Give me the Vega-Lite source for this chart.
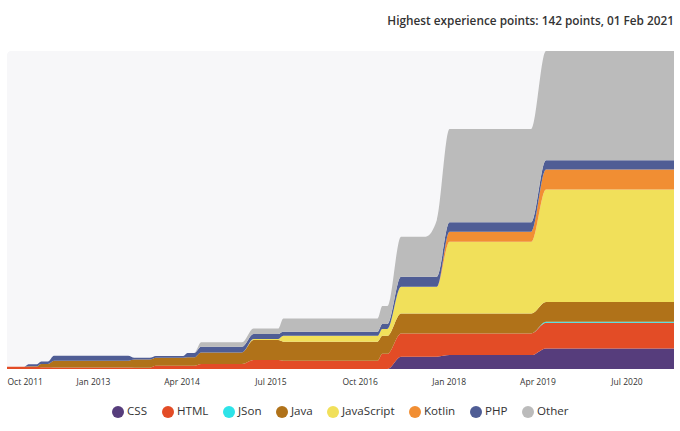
{
  "$schema": "https://vega.github.io/schema/vega-lite/v6.json",
  "width": 667,
  "height": 318,
  "autosize": {"type": "none"},
  "padding": {"left": 7, "top": 51, "right": 6, "bottom": 62},
  "background": "white",
  "title": {
    "text": "Highest experience points: 142 points, 01 Feb 2021",
    "anchor": "end",
    "font": "Open Sans",
    "fontSize": 11.8,
    "fontWeight": 600,
    "color": "#333333",
    "offset": 23
  },
  "data": {
    "values": [
      {"d": "2011-10-18", "s": "CSS", "k": 1, "v": 0}, {"d": "2011-10-18", "s": "HTML", "k": 2, "v": 1.0}, {"d": "2011-10-18", "s": "JSon", "k": 3, "v": 0}, {"d": "2011-10-18", "s": "Java", "k": 4, "v": 0}, {"d": "2011-10-18", "s": "JavaScript", "k": 5, "v": 0}, {"d": "2011-10-18", "s": "Kotlin", "k": 6, "v": 0}, {"d": "2011-10-18", "s": "PHP", "k": 7, "v": 0}, {"d": "2011-10-18", "s": "Other", "k": 8, "v": 0},
      {"d": "2012-01-15", "s": "CSS", "k": 1, "v": 0}, {"d": "2012-01-15", "s": "HTML", "k": 2, "v": 1.0}, {"d": "2012-01-15", "s": "JSon", "k": 3, "v": 0}, {"d": "2012-01-15", "s": "Java", "k": 4, "v": 0}, {"d": "2012-01-15", "s": "JavaScript", "k": 5, "v": 0}, {"d": "2012-01-15", "s": "Kotlin", "k": 6, "v": 0}, {"d": "2012-01-15", "s": "PHP", "k": 7, "v": 0}, {"d": "2012-01-15", "s": "Other", "k": 8, "v": 0},
      {"d": "2012-02-05", "s": "CSS", "k": 1, "v": 0}, {"d": "2012-02-05", "s": "HTML", "k": 2, "v": 1.0}, {"d": "2012-02-05", "s": "JSon", "k": 3, "v": 0}, {"d": "2012-02-05", "s": "Java", "k": 4, "v": 0.2}, {"d": "2012-02-05", "s": "JavaScript", "k": 5, "v": 0}, {"d": "2012-02-05", "s": "Kotlin", "k": 6, "v": 0}, {"d": "2012-02-05", "s": "PHP", "k": 7, "v": 0.9}, {"d": "2012-02-05", "s": "Other", "k": 8, "v": 0},
      {"d": "2012-03-20", "s": "CSS", "k": 1, "v": 0}, {"d": "2012-03-20", "s": "HTML", "k": 2, "v": 1.0}, {"d": "2012-03-20", "s": "JSon", "k": 3, "v": 0}, {"d": "2012-03-20", "s": "Java", "k": 4, "v": 0.2}, {"d": "2012-03-20", "s": "JavaScript", "k": 5, "v": 0}, {"d": "2012-03-20", "s": "Kotlin", "k": 6, "v": 0}, {"d": "2012-03-20", "s": "PHP", "k": 7, "v": 0.9}, {"d": "2012-03-20", "s": "Other", "k": 8, "v": 0},
      {"d": "2012-04-10", "s": "CSS", "k": 1, "v": 0}, {"d": "2012-04-10", "s": "HTML", "k": 2, "v": 0.8}, {"d": "2012-04-10", "s": "JSon", "k": 3, "v": 0}, {"d": "2012-04-10", "s": "Java", "k": 4, "v": 1.4}, {"d": "2012-04-10", "s": "JavaScript", "k": 5, "v": 0}, {"d": "2012-04-10", "s": "Kotlin", "k": 6, "v": 0}, {"d": "2012-04-10", "s": "PHP", "k": 7, "v": 1.1}, {"d": "2012-04-10", "s": "Other", "k": 8, "v": 0},
      {"d": "2012-05-15", "s": "CSS", "k": 1, "v": 0}, {"d": "2012-05-15", "s": "HTML", "k": 2, "v": 0.8}, {"d": "2012-05-15", "s": "JSon", "k": 3, "v": 0}, {"d": "2012-05-15", "s": "Java", "k": 4, "v": 1.4}, {"d": "2012-05-15", "s": "JavaScript", "k": 5, "v": 0}, {"d": "2012-05-15", "s": "Kotlin", "k": 6, "v": 0}, {"d": "2012-05-15", "s": "PHP", "k": 7, "v": 1.1}, {"d": "2012-05-15", "s": "Other", "k": 8, "v": 0},
      {"d": "2012-06-15", "s": "CSS", "k": 1, "v": 0}, {"d": "2012-06-15", "s": "HTML", "k": 2, "v": 0.7}, {"d": "2012-06-15", "s": "JSon", "k": 3, "v": 0}, {"d": "2012-06-15", "s": "Java", "k": 4, "v": 3.0}, {"d": "2012-06-15", "s": "JavaScript", "k": 5, "v": 0}, {"d": "2012-06-15", "s": "Kotlin", "k": 6, "v": 0}, {"d": "2012-06-15", "s": "PHP", "k": 7, "v": 2.2}, {"d": "2012-06-15", "s": "Other", "k": 8, "v": 0},
      {"d": "2013-07-01", "s": "CSS", "k": 1, "v": 0}, {"d": "2013-07-01", "s": "HTML", "k": 2, "v": 0.7}, {"d": "2013-07-01", "s": "JSon", "k": 3, "v": 0}, {"d": "2013-07-01", "s": "Java", "k": 4, "v": 3.0}, {"d": "2013-07-01", "s": "JavaScript", "k": 5, "v": 0}, {"d": "2013-07-01", "s": "Kotlin", "k": 6, "v": 0}, {"d": "2013-07-01", "s": "PHP", "k": 7, "v": 2.2}, {"d": "2013-07-01", "s": "Other", "k": 8, "v": 0},
      {"d": "2013-08-01", "s": "CSS", "k": 1, "v": 0}, {"d": "2013-08-01", "s": "HTML", "k": 2, "v": 0.6}, {"d": "2013-08-01", "s": "JSon", "k": 3, "v": 0}, {"d": "2013-08-01", "s": "Java", "k": 4, "v": 3.6}, {"d": "2013-08-01", "s": "JavaScript", "k": 5, "v": 0}, {"d": "2013-08-01", "s": "Kotlin", "k": 6, "v": 0}, {"d": "2013-08-01", "s": "PHP", "k": 7, "v": 0.8}, {"d": "2013-08-01", "s": "Other", "k": 8, "v": 0},
      {"d": "2013-10-20", "s": "CSS", "k": 1, "v": 0}, {"d": "2013-10-20", "s": "HTML", "k": 2, "v": 0.6}, {"d": "2013-10-20", "s": "JSon", "k": 3, "v": 0}, {"d": "2013-10-20", "s": "Java", "k": 4, "v": 3.6}, {"d": "2013-10-20", "s": "JavaScript", "k": 5, "v": 0}, {"d": "2013-10-20", "s": "Kotlin", "k": 6, "v": 0}, {"d": "2013-10-20", "s": "PHP", "k": 7, "v": 0.8}, {"d": "2013-10-20", "s": "Other", "k": 8, "v": 0},
      {"d": "2013-11-20", "s": "CSS", "k": 1, "v": 0}, {"d": "2013-11-20", "s": "HTML", "k": 2, "v": 1.4}, {"d": "2013-11-20", "s": "JSon", "k": 3, "v": 0}, {"d": "2013-11-20", "s": "Java", "k": 4, "v": 3.6}, {"d": "2013-11-20", "s": "JavaScript", "k": 5, "v": 0}, {"d": "2013-11-20", "s": "Kotlin", "k": 6, "v": 0}, {"d": "2013-11-20", "s": "PHP", "k": 7, "v": 0.8}, {"d": "2013-11-20", "s": "Other", "k": 8, "v": 0},
      {"d": "2014-04-10", "s": "CSS", "k": 1, "v": 0}, {"d": "2014-04-10", "s": "HTML", "k": 2, "v": 1.4}, {"d": "2014-04-10", "s": "JSon", "k": 3, "v": 0}, {"d": "2014-04-10", "s": "Java", "k": 4, "v": 3.6}, {"d": "2014-04-10", "s": "JavaScript", "k": 5, "v": 0}, {"d": "2014-04-10", "s": "Kotlin", "k": 6, "v": 0}, {"d": "2014-04-10", "s": "PHP", "k": 7, "v": 0.8}, {"d": "2014-04-10", "s": "Other", "k": 8, "v": 0},
      {"d": "2014-05-01", "s": "CSS", "k": 1, "v": 0}, {"d": "2014-05-01", "s": "HTML", "k": 2, "v": 1.4}, {"d": "2014-05-01", "s": "JSon", "k": 3, "v": 0}, {"d": "2014-05-01", "s": "Java", "k": 4, "v": 3.8}, {"d": "2014-05-01", "s": "JavaScript", "k": 5, "v": 0}, {"d": "2014-05-01", "s": "Kotlin", "k": 6, "v": 0}, {"d": "2014-05-01", "s": "PHP", "k": 7, "v": 1.9}, {"d": "2014-05-01", "s": "Other", "k": 8, "v": 0},
      {"d": "2014-06-05", "s": "CSS", "k": 1, "v": 0}, {"d": "2014-06-05", "s": "HTML", "k": 2, "v": 1.4}, {"d": "2014-06-05", "s": "JSon", "k": 3, "v": 0}, {"d": "2014-06-05", "s": "Java", "k": 4, "v": 3.8}, {"d": "2014-06-05", "s": "JavaScript", "k": 5, "v": 0}, {"d": "2014-06-05", "s": "Kotlin", "k": 6, "v": 0}, {"d": "2014-06-05", "s": "PHP", "k": 7, "v": 1.9}, {"d": "2014-06-05", "s": "Other", "k": 8, "v": 0},
      {"d": "2014-07-10", "s": "CSS", "k": 1, "v": 0}, {"d": "2014-07-10", "s": "HTML", "k": 2, "v": 2.2}, {"d": "2014-07-10", "s": "JSon", "k": 3, "v": 0}, {"d": "2014-07-10", "s": "Java", "k": 4, "v": 5.2}, {"d": "2014-07-10", "s": "JavaScript", "k": 5, "v": 0}, {"d": "2014-07-10", "s": "Kotlin", "k": 6, "v": 0}, {"d": "2014-07-10", "s": "PHP", "k": 7, "v": 2.5}, {"d": "2014-07-10", "s": "Other", "k": 8, "v": 2.0},
      {"d": "2015-02-05", "s": "CSS", "k": 1, "v": 0}, {"d": "2015-02-05", "s": "HTML", "k": 2, "v": 2.2}, {"d": "2015-02-05", "s": "JSon", "k": 3, "v": 0}, {"d": "2015-02-05", "s": "Java", "k": 4, "v": 5.2}, {"d": "2015-02-05", "s": "JavaScript", "k": 5, "v": 0}, {"d": "2015-02-05", "s": "Kotlin", "k": 6, "v": 0}, {"d": "2015-02-05", "s": "PHP", "k": 7, "v": 2.5}, {"d": "2015-02-05", "s": "Other", "k": 8, "v": 2.0},
      {"d": "2015-04-05", "s": "CSS", "k": 1, "v": 0}, {"d": "2015-04-05", "s": "HTML", "k": 2, "v": 4.0}, {"d": "2015-04-05", "s": "JSon", "k": 3, "v": 0}, {"d": "2015-04-05", "s": "Java", "k": 4, "v": 8.9}, {"d": "2015-04-05", "s": "JavaScript", "k": 5, "v": 0.5}, {"d": "2015-04-05", "s": "Kotlin", "k": 6, "v": 0}, {"d": "2015-04-05", "s": "PHP", "k": 7, "v": 2.2}, {"d": "2015-04-05", "s": "Other", "k": 8, "v": 2.5},
      {"d": "2015-08-10", "s": "CSS", "k": 1, "v": 0}, {"d": "2015-08-10", "s": "HTML", "k": 2, "v": 4.0}, {"d": "2015-08-10", "s": "JSon", "k": 3, "v": 0}, {"d": "2015-08-10", "s": "Java", "k": 4, "v": 8.9}, {"d": "2015-08-10", "s": "JavaScript", "k": 5, "v": 0.5}, {"d": "2015-08-10", "s": "Kotlin", "k": 6, "v": 0}, {"d": "2015-08-10", "s": "PHP", "k": 7, "v": 2.2}, {"d": "2015-08-10", "s": "Other", "k": 8, "v": 2.5},
      {"d": "2015-09-05", "s": "CSS", "k": 1, "v": 0}, {"d": "2015-09-05", "s": "HTML", "k": 2, "v": 3.7}, {"d": "2015-09-05", "s": "JSon", "k": 3, "v": 0}, {"d": "2015-09-05", "s": "Java", "k": 4, "v": 8.5}, {"d": "2015-09-05", "s": "JavaScript", "k": 5, "v": 2.6}, {"d": "2015-09-05", "s": "Kotlin", "k": 6, "v": 0}, {"d": "2015-09-05", "s": "PHP", "k": 7, "v": 1.8}, {"d": "2015-09-05", "s": "Other", "k": 8, "v": 6.0},
      {"d": "2017-01-01", "s": "CSS", "k": 1, "v": 0}, {"d": "2017-01-01", "s": "HTML", "k": 2, "v": 3.7}, {"d": "2017-01-01", "s": "JSon", "k": 3, "v": 0}, {"d": "2017-01-01", "s": "Java", "k": 4, "v": 8.5}, {"d": "2017-01-01", "s": "JavaScript", "k": 5, "v": 2.6}, {"d": "2017-01-01", "s": "Kotlin", "k": 6, "v": 0}, {"d": "2017-01-01", "s": "PHP", "k": 7, "v": 1.8}, {"d": "2017-01-01", "s": "Other", "k": 8, "v": 6.0},
      {"d": "2017-01-25", "s": "CSS", "k": 1, "v": 0}, {"d": "2017-01-25", "s": "HTML", "k": 2, "v": 6.8}, {"d": "2017-01-25", "s": "JSon", "k": 3, "v": 0}, {"d": "2017-01-25", "s": "Java", "k": 4, "v": 8.0}, {"d": "2017-01-25", "s": "JavaScript", "k": 5, "v": 3.1}, {"d": "2017-01-25", "s": "Kotlin", "k": 6, "v": 0}, {"d": "2017-01-25", "s": "PHP", "k": 7, "v": 2.2}, {"d": "2017-01-25", "s": "Other", "k": 8, "v": 8.0},
      {"d": "2017-02-20", "s": "CSS", "k": 1, "v": 0}, {"d": "2017-02-20", "s": "HTML", "k": 2, "v": 6.8}, {"d": "2017-02-20", "s": "JSon", "k": 3, "v": 0}, {"d": "2017-02-20", "s": "Java", "k": 4, "v": 8.0}, {"d": "2017-02-20", "s": "JavaScript", "k": 5, "v": 3.1}, {"d": "2017-02-20", "s": "Kotlin", "k": 6, "v": 0}, {"d": "2017-02-20", "s": "PHP", "k": 7, "v": 2.2}, {"d": "2017-02-20", "s": "Other", "k": 8, "v": 8.0},
      {"d": "2017-05-01", "s": "CSS", "k": 1, "v": 5.5}, {"d": "2017-05-01", "s": "HTML", "k": 2, "v": 10.4}, {"d": "2017-05-01", "s": "JSon", "k": 3, "v": 0}, {"d": "2017-05-01", "s": "Java", "k": 4, "v": 8.9}, {"d": "2017-05-01", "s": "JavaScript", "k": 5, "v": 11.9}, {"d": "2017-05-01", "s": "Kotlin", "k": 6, "v": 0}, {"d": "2017-05-01", "s": "PHP", "k": 7, "v": 4.5}, {"d": "2017-05-01", "s": "Other", "k": 8, "v": 17.9},
      {"d": "2017-09-05", "s": "CSS", "k": 1, "v": 5.5}, {"d": "2017-09-05", "s": "HTML", "k": 2, "v": 10.4}, {"d": "2017-09-05", "s": "JSon", "k": 3, "v": 0}, {"d": "2017-09-05", "s": "Java", "k": 4, "v": 8.9}, {"d": "2017-09-05", "s": "JavaScript", "k": 5, "v": 11.9}, {"d": "2017-09-05", "s": "Kotlin", "k": 6, "v": 0}, {"d": "2017-09-05", "s": "PHP", "k": 7, "v": 4.5}, {"d": "2017-09-05", "s": "Other", "k": 8, "v": 17.9},
      {"d": "2017-11-01", "s": "CSS", "k": 1, "v": 5.5}, {"d": "2017-11-01", "s": "HTML", "k": 2, "v": 10.4}, {"d": "2017-11-01", "s": "JSon", "k": 3, "v": 0}, {"d": "2017-11-01", "s": "Java", "k": 4, "v": 8.9}, {"d": "2017-11-01", "s": "JavaScript", "k": 5, "v": 11.9}, {"d": "2017-11-01", "s": "Kotlin", "k": 6, "v": 0}, {"d": "2017-11-01", "s": "PHP", "k": 7, "v": 4.5}, {"d": "2017-11-01", "s": "Other", "k": 8, "v": 25.3},
      {"d": "2018-01-05", "s": "CSS", "k": 1, "v": 6.2}, {"d": "2018-01-05", "s": "HTML", "k": 2, "v": 9.7}, {"d": "2018-01-05", "s": "JSon", "k": 3, "v": 0}, {"d": "2018-01-05", "s": "Java", "k": 4, "v": 8.9}, {"d": "2018-01-05", "s": "JavaScript", "k": 5, "v": 32.0}, {"d": "2018-01-05", "s": "Kotlin", "k": 6, "v": 4.5}, {"d": "2018-01-05", "s": "PHP", "k": 7, "v": 4.2}, {"d": "2018-01-05", "s": "Other", "k": 8, "v": 41.7},
      {"d": "2019-03-01", "s": "CSS", "k": 1, "v": 6.2}, {"d": "2019-03-01", "s": "HTML", "k": 2, "v": 9.7}, {"d": "2019-03-01", "s": "JSon", "k": 3, "v": 0}, {"d": "2019-03-01", "s": "Java", "k": 4, "v": 8.9}, {"d": "2019-03-01", "s": "JavaScript", "k": 5, "v": 32.0}, {"d": "2019-03-01", "s": "Kotlin", "k": 6, "v": 4.5}, {"d": "2019-03-01", "s": "PHP", "k": 7, "v": 4.2}, {"d": "2019-03-01", "s": "Other", "k": 8, "v": 41.7},
      {"d": "2019-05-15", "s": "CSS", "k": 1, "v": 9.2}, {"d": "2019-05-15", "s": "HTML", "k": 2, "v": 11.4}, {"d": "2019-05-15", "s": "JSon", "k": 3, "v": 0.45}, {"d": "2019-05-15", "s": "Java", "k": 4, "v": 8.9}, {"d": "2019-05-15", "s": "JavaScript", "k": 5, "v": 50.2}, {"d": "2019-05-15", "s": "Kotlin", "k": 6, "v": 8.9}, {"d": "2019-05-15", "s": "PHP", "k": 7, "v": 4.2}, {"d": "2019-05-15", "s": "Other", "k": 8, "v": 48.75},
      {"d": "2021-03-02", "s": "CSS", "k": 1, "v": 9.2}, {"d": "2021-03-02", "s": "HTML", "k": 2, "v": 11.4}, {"d": "2021-03-02", "s": "JSon", "k": 3, "v": 0.45}, {"d": "2021-03-02", "s": "Java", "k": 4, "v": 8.9}, {"d": "2021-03-02", "s": "JavaScript", "k": 5, "v": 50.2}, {"d": "2021-03-02", "s": "Kotlin", "k": 6, "v": 8.9}, {"d": "2021-03-02", "s": "PHP", "k": 7, "v": 4.2}, {"d": "2021-03-02", "s": "Other", "k": 8, "v": 48.75}
    ]
  },
  "mark": {"type": "area", "interpolate": "monotone"},
  "encoding": {
    "x": {
      "field": "d",
      "type": "temporal",
      "scale": {
        "type": "utc",
        "domain": [
          {"year": 2011, "month": 10, "date": 18, "utc": true},
          {"year": 2021, "month": 3, "date": 2, "utc": true}
        ]
      },
      "axis": {
        "title": null,
        "domain": false,
        "ticks": false,
        "tickSize": 0,
        "grid": false,
        "labelPadding": 8,
        "labelFlush": true,
        "labelFont": "Open Sans",
        "labelFontSize": 8.5,
        "labelColor": "#333333",
        "format": "%b %Y",
        "values": [
          {"year": 2011, "month": 10, "date": 18, "utc": true},
          {"year": 2013, "month": 1, "date": 1, "utc": true},
          {"year": 2014, "month": 4, "date": 1, "utc": true},
          {"year": 2015, "month": 7, "date": 1, "utc": true},
          {"year": 2016, "month": 10, "date": 1, "utc": true},
          {"year": 2018, "month": 1, "date": 1, "utc": true},
          {"year": 2019, "month": 4, "date": 1, "utc": true},
          {"year": 2020, "month": 7, "date": 1, "utc": true}
        ]
      }
    },
    "y": {
      "field": "v",
      "type": "quantitative",
      "stack": "zero",
      "scale": {"domain": [0, 142], "nice": false},
      "axis": null
    },
    "color": {
      "field": "s",
      "type": "nominal",
      "scale": {
        "domain": ["CSS", "HTML", "JSon", "Java", "JavaScript", "Kotlin", "PHP", "Other"],
        "range": ["#563d7c", "#e34c26", "#2ee3e8", "#b07219", "#f1e05a", "#f18e33", "#4f5d95", "#bbbbbb"]
      },
      "legend": {
        "title": null,
        "orient": "bottom",
        "direction": "horizontal",
        "symbolType": "circle",
        "symbolSize": 144,
        "symbolStrokeWidth": 0,
        "symbolOpacity": 1,
        "labelFont": "Open Sans",
        "labelFontSize": 11.6,
        "labelColor": "#333333",
        "labelOffset": 3,
        "columnPadding": 14,
        "offset": 20
      }
    },
    "order": {"field": "k", "type": "quantitative", "sort": "ascending"}
  },
  "config": {
    "view": {"fill": "#f7f7f9", "stroke": null, "cornerRadius": 4},
    "legend": {"layout": {"bottom": {"anchor": "middle"}}}
  }
}
